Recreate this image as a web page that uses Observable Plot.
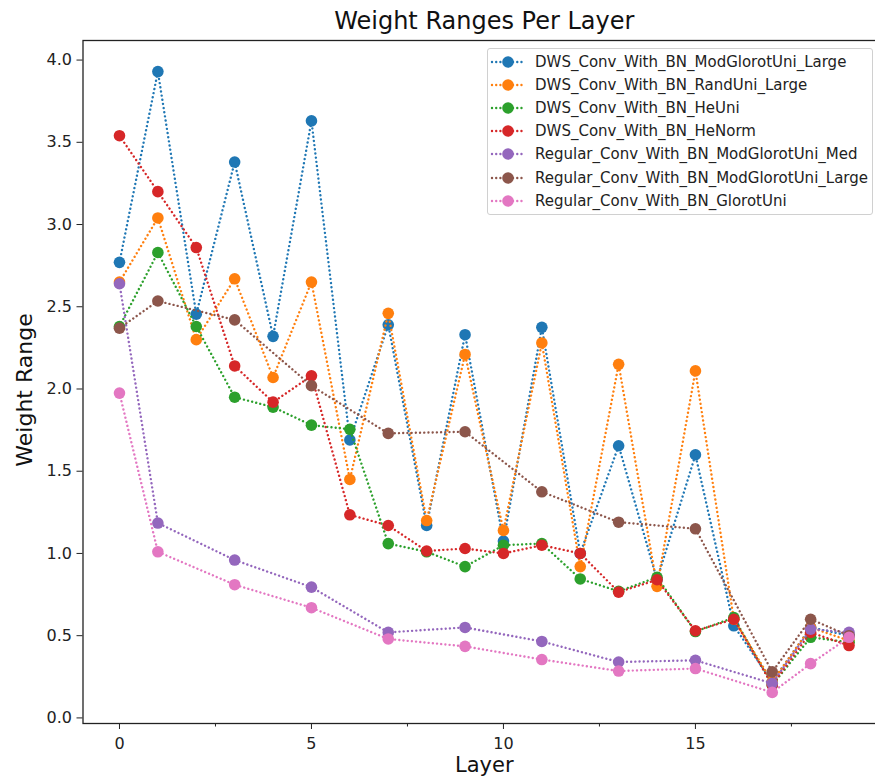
<!DOCTYPE html>
<html>
<head>
<meta charset="utf-8">
<script src="https://cdn.jsdelivr.net/npm/d3@7"></script>
<script src="https://cdn.jsdelivr.net/npm/@observablehq/plot@0.6"></script>
<style>
  html, body { margin: 0; padding: 0; background: #fff; overflow: hidden; }
  #wrap { position: relative; width: 875px; height: 778px; font-family: "DejaVu Sans", sans-serif; }
  #legend { position: absolute; left: 487px; top: 48px; width: 386px; height: 167px;
            border: 1px solid #d0d0d0; border-radius: 3px; background: rgba(255,255,255,0.8); box-sizing: border-box; }
  .row { position: absolute; left: 0; height: 22px; display: flex; align-items: center; white-space: nowrap; }
  .row svg { display: block; }
  .row span { font-size: 15px; color: #222; margin-left: 9px; }
</style>
</head>
<body>
<div id="wrap"></div>
<script>
const title = "Weight Ranges Per Layer";
const xLabel = "Layer";
const yLabel = "Weight Range";
const xTicks = [0, 5, 10, 15];
const xMinorTicks = [2.5, 7.5, 12.5, 17.5];
const yTicks = [0, 0.5, 1, 1.5, 2, 2.5, 3, 3.5, 4];

const seriesNames = [
  "DWS_Conv_With_BN_ModGlorotUni_Large",
  "DWS_Conv_With_BN_RandUni_Large",
  "DWS_Conv_With_BN_HeUni",
  "DWS_Conv_With_BN_HeNorm",
  "Regular_Conv_With_BN_ModGlorotUni_Med",
  "Regular_Conv_With_BN_ModGlorotUni_Large",
  "Regular_Conv_With_BN_GlorotUni"
];
const seriesColors = ["#1f77b4", "#ff7f0e", "#2ca02c", "#d62728", "#9467bd", "#8c564b", "#e377c2"];

const dwsLayers = [0,1,2,3,4,5,6,7,8,9,10,11,12,13,14,15,16,17,18,19];
const regularLayers = [0,1,3,5,7,9,11,13,15,17,18,19];

const dwsModGlorotUniLarge = [2.77,3.93,2.455,3.38,2.32,3.63,1.69,2.39,1.17,2.33,1.075,2.375,1.0,1.655,0.84,1.60,0.56,0.22,0.55,0.50];
const dwsRandUniLarge      = [2.65,3.04,2.30,2.67,2.07,2.65,1.45,2.46,1.20,2.21,1.14,2.28,0.92,2.15,0.80,2.11,0.60,0.22,0.55,0.47];
const dwsHeUni             = [2.38,2.83,2.38,1.95,1.89,1.78,1.755,1.06,1.01,0.92,1.05,1.06,0.845,0.77,0.855,0.525,0.61,0.20,0.49,0.46];
const dwsHeNorm            = [3.54,3.20,2.86,2.14,1.92,2.08,1.235,1.17,1.015,1.03,1.00,1.05,1.00,0.765,0.84,0.53,0.60,0.20,0.52,0.44];
const regModGlorotUniMed   = [2.64,1.185,0.96,0.795,0.52,0.55,0.465,0.34,0.35,0.21,0.54,0.52];
const regModGlorotUniLarge = [2.37,2.535,2.42,2.02,1.73,1.74,1.375,1.19,1.15,0.28,0.60,0.50];
const regGlorotUni         = [1.975,1.01,0.81,0.67,0.48,0.435,0.355,0.285,0.30,0.155,0.33,0.49];

const seriesValues = [dwsModGlorotUniLarge, dwsRandUniLarge, dwsHeUni, dwsHeNorm, regModGlorotUniMed, regModGlorotUniLarge, regGlorotUni];
const seriesLayers = [dwsLayers, dwsLayers, dwsLayers, dwsLayers, regularLayers, regularLayers, regularLayers];

const W = 875, H = 778;
const mL = 82.5, mR = -10, mT = 40, mB = 55;
const dash = "0.01,4.2";

const marks = [];
seriesNames.forEach((name, i) => {
  const rows = seriesValues[i].map((v, j) => ({layer: seriesLayers[i][j], value: v, series: name}));
  marks.push(Plot.line(rows, {x: "layer", y: "value", stroke: seriesColors[i], strokeWidth: 2.4, strokeDasharray: dash, strokeLinecap: "round"}));
  marks.push(Plot.dot(rows, {x: "layer", y: "value", fill: seriesColors[i], r: 5.8, stroke: "none"}));
});

const chart = Plot.plot({
  width: W, height: H,
  marginLeft: mL, marginRight: mR, marginTop: mT, marginBottom: mB,
  style: {fontFamily: "DejaVu Sans, sans-serif", fontSize: "16px", color: "#222", background: "white", overflow: "hidden"},
  x: {type: "linear", domain: [-0.95, 19.95], range: [mL, W - mR]},
  y: {type: "linear", domain: [-0.034, 4.119], range: [H - mB, mT]},
  marks: [
    Plot.axisX({ticks: xTicks, tickSize: 6, tickPadding: 8, tickFormat: d => String(d), label: null, fontSize: 16, stroke: "#222"}),
    Plot.axisX({ticks: xMinorTicks, tickSize: 3.5, tickFormat: () => "", label: null, stroke: "#222"}),
    Plot.axisY({ticks: yTicks, tickSize: 6, tickPadding: 5, tickFormat: d3.format(".1f"), label: null, fontSize: 16, stroke: "#222"}),
    ...marks,
    Plot.frame({stroke: "#222", strokeWidth: 1.3}),
    Plot.text([title], {frameAnchor: "top", dy: -12, lineAnchor: "bottom", fontSize: 24, fill: "#111"}),
    Plot.text([xLabel], {frameAnchor: "bottom", dy: 34, lineAnchor: "top", fontSize: 21, fill: "#111"}),
    Plot.text([yLabel], {frameAnchor: "left", textAnchor: "middle", dx: -58, dy: 8, rotate: -90, fontSize: 22, fill: "#111"})
  ]
});

const wrap = document.getElementById("wrap");
wrap.appendChild(chart);

const legend = document.createElement("div");
legend.id = "legend";
seriesNames.forEach((name, i) => {
  const row = document.createElement("div");
  row.className = "row";
  row.style.top = (2 + i * 23.1) + "px";
  const ns = "http://www.w3.org/2000/svg";
  const sw = document.createElementNS(ns, "svg");
  sw.setAttribute("width", 38); sw.setAttribute("height", 22);
  const ln = document.createElementNS(ns, "line");
  ln.setAttribute("x1", 4); ln.setAttribute("x2", 36); ln.setAttribute("y1", 11); ln.setAttribute("y2", 11);
  ln.setAttribute("stroke", seriesColors[i]); ln.setAttribute("stroke-width", 2.4);
  ln.setAttribute("stroke-dasharray", dash); ln.setAttribute("stroke-linecap", "round");
  const c = document.createElementNS(ns, "circle");
  c.setAttribute("cx", 20); c.setAttribute("cy", 11); c.setAttribute("r", 5.8); c.setAttribute("fill", seriesColors[i]);
  sw.appendChild(ln); sw.appendChild(c);
  const t = document.createElement("span");
  t.textContent = name;
  row.appendChild(sw); row.appendChild(t);
  legend.appendChild(row);
});
wrap.appendChild(legend);
</script>
</body>
</html>
